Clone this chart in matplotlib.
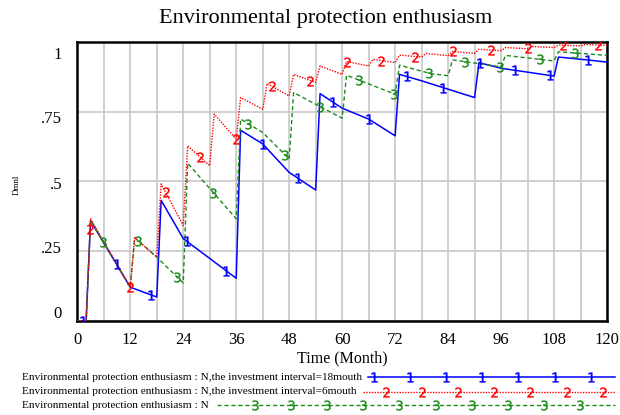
import numpy as np
import matplotlib.pyplot as plt
import matplotlib.transforms as mtransforms
from matplotlib.lines import Line2D

# values, time in months, value in Dmnl
# run 1: investment interval = 18 months
t1 = [0, 2, 3, 12, 18, 19, 24, 36, 37, 42, 48, 54, 55, 60, 66, 72, 73, 78, 84, 90, 91, 96, 108, 109, 116, 120]
v1 = [0, 0, 0.359, 0.121, 0.086, 0.432, 0.295, 0.153, 0.683, 0.634, 0.532, 0.469, 0.814, 0.762, 0.723, 0.663,
      0.883, 0.86, 0.83, 0.80, 0.925, 0.905, 0.877, 0.945, 0.934, 0.927]

# run 2: investment interval = 6 months
t2 = [0, 2, 3, 12, 13, 18, 19, 24, 25, 30, 31, 36, 37, 42, 43, 48, 49, 54, 55, 60,
      61, 66, 67, 72, 73, 78, 79, 84, 85, 90, 91, 96, 97, 102, 103, 108, 109, 114, 115, 120]
v2 = [0, 0, 0.366, 0.121, 0.298, 0.229, 0.491, 0.342, 0.627, 0.556, 0.741, 0.651, 0.80, 0.758, 0.85, 0.806,
      0.883, 0.854, 0.913, 0.883, 0.929, 0.913, 0.937, 0.925, 0.952, 0.945, 0.958, 0.95, 0.965, 0.958,
      0.973, 0.968, 0.979, 0.975, 0.983, 0.979, 0.988, 0.985, 0.99, 0.987]

# run 3: base run N
t3 = [0, 2, 3, 12, 13, 18, 24, 25, 36, 37, 42, 48, 49, 60, 61, 72, 73, 80, 84, 85, 96, 97, 108, 109, 120]
v3 = [0, 0, 0.359, 0.121, 0.298, 0.229, 0.136, 0.565, 0.366, 0.723, 0.675, 0.58, 0.818, 0.726, 0.88, 0.812,
      0.916, 0.886, 0.878, 0.935, 0.91, 0.951, 0.931, 0.964, 0.951]

# times where the run numbers sit on the curves
m1 = [1.2, 8.9, 16.8, 24.8, 33.8, 42.0, 50.0, 58.0, 66.0, 74.6, 82.9, 91.2, 99.1, 107.0, 115.7]
m2 = [2.9, 12.0, 20.0, 27.8, 35.9, 44.0, 52.8, 61.0, 68.9, 76.6, 85.0, 93.8, 102.1, 110.0, 118.0]
m3 = [5.9, 13.8, 22.5, 30.8, 38.7, 47.0, 55.0, 63.9, 71.8, 79.7, 87.8, 95.7, 104.8, 112.7]

legend_labels = ["Environmental protection enthusiasm : N,the investment interval=18mouth",
                 "Environmental protection enthusiasm : N,the investment interval=6mouth",
                 "Environmental protection enthusiasm : N"]

W, H = 620, 415
serif = "Liberation Serif"
blue, red, green = "#0000ff", "#ff0000", "#1a8c1a"
num_kw = dict(ls="none", ms=7, mew=0.3)

fig = plt.figure(figsize=(W / 100, H / 100), dpi=100)
ax = fig.add_axes([77.3 / W, 1 - 321 / H, (607 - 77.3) / W, (321 - 41.7) / H])

ax.plot(t1, v1, color=blue, lw=1.1, zorder=3)
ax.plot(t2, v2, color=red, lw=1.0, ls=(0, (1, 1)), zorder=4)
ax.plot(t3, v3, color=green, lw=1.0, ls=(0, (3, 2)), zorder=3)

ax.plot(m1, np.interp(m1, t1, v1), marker="$1$", color=blue, zorder=5, **num_kw)
ax.plot(m2, np.interp(m2, t2, v2), marker="$2$", color=red, zorder=5, **num_kw)
ax.plot(m3, np.interp(m3, t3, v3), marker="$3$", color=green, zorder=5, **num_kw)

ax.set_xlim(0, 120)
ax.set_ylim(0, 1)
ax.set_xticks(np.arange(0, 121, 12))
ax.set_xticks(np.arange(0, 121, 6), minor=True)
ax.set_yticks([0, 0.25, 0.5, 0.75, 1])
ax.set_yticklabels(["0", ".25", ".5", ".75", "1"])
ax.grid(True, which="both", axis="x", color="#c8c8c8", lw=1.2)
ax.grid(True, which="major", axis="y", color="#c8c8c8", lw=1.2)
ax.tick_params(which="both", length=0)
ax.tick_params(axis="x", pad=8, labelsize=12)
ax.tick_params(axis="y", pad=11, labelsize=12)
for lab in ax.get_xticklabels() + ax.get_yticklabels():
    lab.set_fontfamily(serif)

# vensim nudges the y labels toward the middle of the axis
nudge = [-9, -4, 2, 5, 11]
for lab, dy in zip(ax.get_yticklabels(), nudge):
    lab.set_transform(lab.get_transform() + mtransforms.ScaledTranslation(0, -dy / 100, fig.dpi_scale_trans))

for s in ax.spines.values():
    s.set_linewidth(1.8)
    s.set_color("black")

ax.set_xlabel("Time (Month)", fontsize=11.5, fontfamily=serif, labelpad=2)
fig.text(16.7 / W, 1 - 185 / H, "Dmnl", rotation=90, fontsize=6.5, fontfamily=serif, ha="center", va="center")
fig.text(326 / W, 1 - 18 / H, "Environmental protection enthusiasm", fontsize=16, fontfamily=serif,
         ha="center", va="center")

# legend rows under the chart
rows_y = [377, 391.5, 405]
line_x0 = [368, 363, 217]
mark_x0 = [374, 386, 255]
styles = [dict(color=blue, lw=1.1, ls="-"), dict(color=red, lw=1.0, ls=(0, (1, 1))),
          dict(color=green, lw=1.0, ls=(0, (3, 2)))]
nums = ["$1$", "$2$", "$3$"]
for lab, y, x0, mx0, st, num in zip(legend_labels, rows_y, line_x0, mark_x0, styles, nums):
    yf = 1 - y / H
    fig.text(22 / W, yf, lab, fontsize=8.1, fontfamily=serif, ha="left", va="center")
    fig.add_artist(Line2D([x0 / W, 615 / W], [yf, yf], transform=fig.transFigure, **st))
    mx = np.arange(mx0, 616, 36.1)
    fig.add_artist(Line2D(mx / W, np.full(len(mx), yf), transform=fig.transFigure,
                          marker=num, color=st["color"], **num_kw))

fig.savefig("out.png", dpi=100)
